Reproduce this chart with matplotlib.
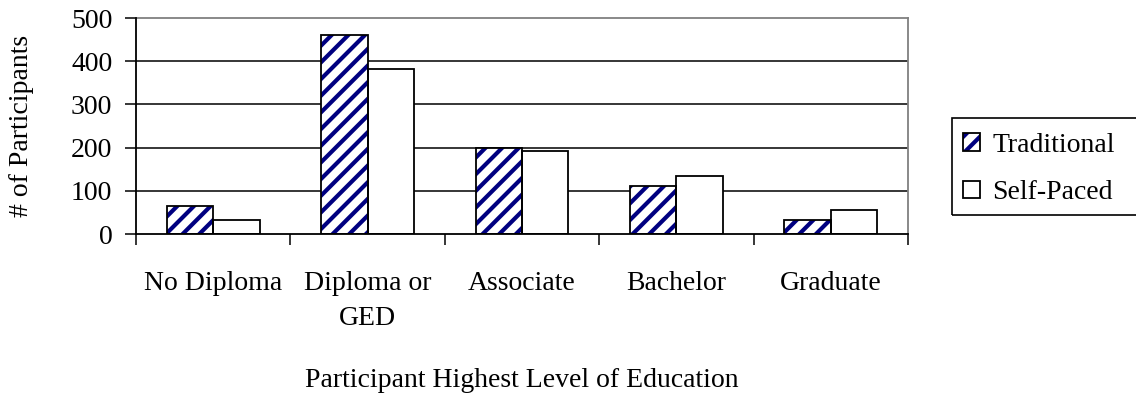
import numpy as np
import matplotlib
matplotlib.use("Agg")
import matplotlib.pyplot as plt
from matplotlib.ticker import FixedLocator, NullFormatter
from matplotlib.patches import Rectangle
from matplotlib.legend_handler import HandlerTuple

categories = ["No Diploma", "Diploma or\nGED", "Associate", "Bachelor", "Graduate"]
traditional = [65, 460, 200, 112, 32]
self_paced = [32, 383, 193, 134, 56]
yticks = [0, 100, 200, 300, 400, 500]

plt.rcParams["font.family"] = ["Liberation Serif", "DejaVu Serif"]
plt.rcParams["hatch.linewidth"] = 3.0

navy = "#000080"
fig = plt.figure(figsize=(11.36, 4.0), dpi=100)
ax = fig.add_axes([136/1136, 1-234/400, 772/1136, 216/400])

x = np.arange(len(categories))
w = 0.3
# hatch takes the edge colour, so draw the navy stripes and the black outline separately
h1 = ax.bar(x - w/2, traditional, w, facecolor="white", edgecolor=navy,
            hatch="//", linewidth=0, zorder=3)
h2 = ax.bar(x - w/2, traditional, w, fill=False, edgecolor="black",
            linewidth=1.3, zorder=3.5)
h3 = ax.bar(x + w/2, self_paced, w, facecolor="white", edgecolor="black",
            linewidth=1.3, zorder=3)

ax.set_xlim(-0.5, len(categories) - 0.5)
ax.set_ylim(0, 500)
ax.set_yticks(yticks)
ax.tick_params(axis="y", labelsize=20, length=8, width=1.1, pad=9, direction="out")
for yv in yticks[1:-1]:
    ax.axhline(yv, color="black", linewidth=1.1, zorder=1)

# category boundaries get the tick marks, centers get the labels
ax.xaxis.set_major_locator(FixedLocator(np.arange(len(categories) + 1) - 0.5))
ax.xaxis.set_major_formatter(NullFormatter())
ax.xaxis.set_minor_locator(FixedLocator(x))
ax.set_xticklabels(categories, minor=True, fontsize=20, linespacing=1.5)
ax.tick_params(axis="x", which="major", length=8, width=1.1, direction="out")
ax.tick_params(axis="x", which="minor", length=0, pad=27)

for s in ["top", "right"]:
    ax.spines[s].set_color("#808080")
    ax.spines[s].set_linewidth(1.3)
for s in ["left", "bottom"]:
    ax.spines[s].set_color("black")
    ax.spines[s].set_linewidth(1.3)
    ax.spines[s].set_zorder(4)

ax.set_ylabel("# of Participants", fontsize=20)
ax.yaxis.set_label_coords(-0.1477, 0.5)
ax.yaxis.label.set_va("center")
ax.set_xlabel("Participant Highest Level of Education", fontsize=20)
ax.xaxis.set_label_coords(0.5, -0.676)
ax.xaxis.label.set_va("center")

fig.legend([(h1[0], h2[0]), h3[0]], ["Traditional", "Self-Paced"],
           handler_map={tuple: HandlerTuple(ndivide=1)},
           loc="upper left", bbox_to_anchor=(963/1136, 1-133/400),
           fontsize=20, frameon=False,
           handlelength=0.6, handleheight=0.6, handletextpad=0.45,
           borderpad=0, labelspacing=0.8, borderaxespad=0)
fig.patches.append(Rectangle((952/1136, 1-215/400), 200/1136, 97/400,
                             transform=fig.transFigure, fill=False,
                             edgecolor="black", linewidth=1.2))

fig.savefig("out.png", dpi=100)
